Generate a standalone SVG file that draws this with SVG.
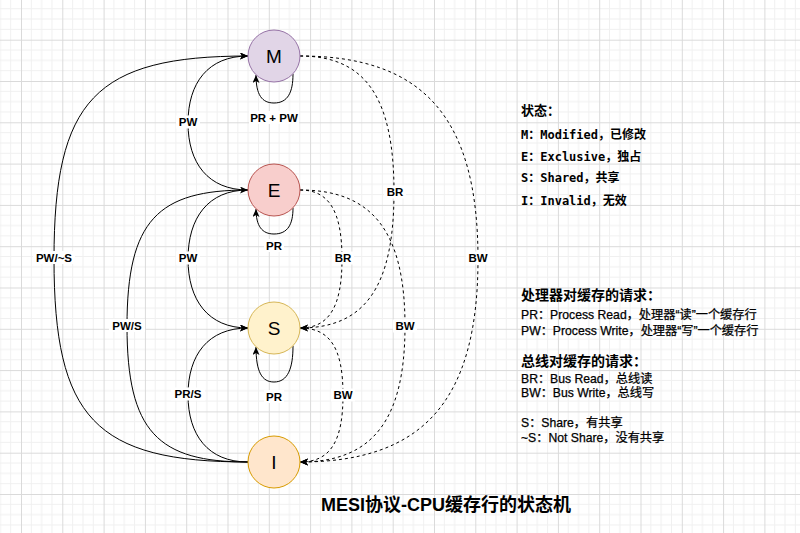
<svg xmlns="http://www.w3.org/2000/svg" width="800" height="533" viewBox="0 0 800 533">
<style>
.bg{fill:#ffffff}
.edge{fill:none;stroke:#000;stroke-width:1}
.dash{stroke-dasharray:3 3}
.lbl{font-family:"Liberation Sans","Noto Sans CJK SC",sans-serif;font-size:11.5px;font-weight:bold;fill:#000;text-anchor:middle}
.lblbg{fill:#fff}
.node circle{stroke-width:1}
.node text{font-family:"Liberation Sans",Arial,sans-serif;font-size:19px;fill:#000;text-anchor:middle}
.mono{font-family:"DejaVu Sans Mono","Noto Sans CJK SC",monospace;font-size:12px;font-weight:bold;fill:#000}
.head{font-family:"Liberation Sans","Noto Sans CJK SC",sans-serif;font-weight:bold;fill:#000}
.leg{font-family:"Liberation Sans","Noto Sans CJK SC",sans-serif;font-size:12.2px;fill:#000;stroke:#000;stroke-width:0.25}
.title{font-family:"Liberation Sans","Noto Sans CJK SC",sans-serif;font-size:18px;font-weight:bold;fill:#000;text-anchor:middle}
</style>
<defs>
<pattern id="grid" patternUnits="userSpaceOnUse" x="21" y="39.7" width="41.3" height="41.3">
<path d="M10.3 0V41.3M20.65 0V41.3M31 0V41.3M0 10.3H41.3M0 20.65H41.3M0 31H41.3" stroke="#f0f0f0" stroke-width="1" fill="none"/>
<path d="M0.5 0V41.3M0 0.5H41.3" stroke="#dadada" stroke-width="1" fill="none"/>
</pattern>
<marker id="arr" markerUnits="userSpaceOnUse" markerWidth="10" markerHeight="10" refX="8" refY="3.5" orient="auto" viewBox="0 0 10 10">
<path d="M0 0L8 3.5L0 7L2 3.5Z" fill="#000"/>
</marker>
</defs>
<rect class="bg" width="800" height="533"/>
<rect width="800" height="533" fill="url(#grid)"/>

<g id="connectors">
<path class="edge" marker-end="url(#arr)" d="M293 74C293 92 288 103 274 103C262 103 256 95 256 75"/>
<path class="edge" marker-end="url(#arr)" d="M293 208C293 224 288 234 274 234C262 234 256 226 256 209"/>
<path class="edge" marker-end="url(#arr)" d="M293 346C293 368 288 382 274 382C262 382 256 372 256 347"/>
<path class="edge" marker-end="url(#arr)" d="M248 190C208 190 188 163 188 123C188 83 208 56 248 56"/>
<path class="edge" marker-end="url(#arr)" d="M248 190C208 190 188 218 188 259C188 300 208 328 248 328"/>
<path class="edge" marker-end="url(#arr)" d="M248 462C208 462 188 435 188 395C188 355 208 328 248 328"/>
<path class="edge" marker-end="url(#arr)" d="M248 462C158 462 127 432 127 326C127 220 158 190 248 190"/>
<path class="edge" marker-end="url(#arr)" d="M248 462C95 462 54 418 54 259C54 100 95 56 248 56"/>
<path class="edge dash" marker-end="url(#arr)" d="M300 56C365 56 394 97 394 192C394 287 365 328 300 328"/>
<path class="edge dash" marker-end="url(#arr)" d="M300 56C423 56 478 117 478 259C478 401 423 462 300 462"/>
<path class="edge dash" marker-end="url(#arr)" d="M300 190C329 190 342 211 342 259C342 307 329 328 300 328"/>
<path class="edge dash" marker-end="url(#arr)" d="M300 190C372 190 405 231 405 326C405 421 372 462 300 462"/>
<path class="edge dash" marker-end="url(#arr)" d="M300 328C330 328 343 348 343 395C343 442 330 462 300 462"/>
</g>

<g id="edge-labels">
<rect class="lblbg" x="249" y="111" width="50" height="13"/><text class="lbl" x="274" y="121.7">PR + PW</text>
<rect class="lblbg" x="264" y="239" width="20" height="13"/><text class="lbl" x="274" y="249.7">PR</text>
<rect class="lblbg" x="264" y="390" width="20" height="13"/><text class="lbl" x="274" y="400.7">PR</text>
<rect class="lblbg" x="176" y="115.5" width="24" height="13"/><text class="lbl" x="188" y="126">PW</text>
<rect class="lblbg" x="176" y="251.5" width="24" height="13"/><text class="lbl" x="188" y="262">PW</text>
<rect class="lblbg" x="171" y="387.5" width="34" height="13"/><text class="lbl" x="188" y="398">PR/S</text>
<rect class="lblbg" x="109" y="319" width="36" height="13"/><text class="lbl" x="127" y="329.7">PW/S</text>
<rect class="lblbg" x="33" y="251" width="42" height="13"/><text class="lbl" x="54" y="261.7">PW/~S</text>
<rect class="lblbg" x="384" y="185.5" width="22" height="13"/><text class="lbl" x="395" y="196">BR</text>
<rect class="lblbg" x="466" y="251.5" width="24" height="13"/><text class="lbl" x="478" y="262">BW</text>
<rect class="lblbg" x="332" y="251.5" width="22" height="13"/><text class="lbl" x="343" y="262">BR</text>
<rect class="lblbg" x="393" y="319.5" width="24" height="13"/><text class="lbl" x="405" y="330">BW</text>
<rect class="lblbg" x="331" y="388.5" width="24" height="13"/><text class="lbl" x="343" y="399">BW</text>
</g>

<g id="node-M" class="node"><circle cx="274" cy="56" r="26" fill="#e1d5e7" stroke="#9673a6"/><text x="274" y="63">M</text></g>
<g id="node-E" class="node"><circle cx="274" cy="190" r="26" fill="#f8cecc" stroke="#b85450"/><text x="274" y="197">E</text></g>
<g id="node-S" class="node"><circle cx="274" cy="328" r="26" fill="#fff2cc" stroke="#d6b656"/><text x="274" y="335">S</text></g>
<g id="node-I" class="node"><circle cx="274" cy="462" r="26" fill="#ffe6cc" stroke="#d79b00"/><text x="274" y="469">I</text></g>

<g id="legend-states">
<text class="head" x="521" y="115" font-size="13">状态：</text>
<text class="mono" x="521" y="138.5">M：Modified，已修改</text>
<text class="mono" x="521" y="161">E：Exclusive，独占</text>
<text class="mono" x="521" y="182">S：Shared，共享</text>
<text class="mono" x="521" y="205">I：Invalid，无效</text>
</g>
<g id="legend-requests">
<text class="head" x="521" y="300" font-size="14">处理器对缓存的请求：</text>
<text class="leg" x="521" y="318.5">PR：Process Read，处理器“读”一个缓存行</text>
<text class="leg" x="521" y="334.5">PW：Process Write，处理器“写”一个缓存行</text>
<text class="head" x="521" y="366" font-size="14">总线对缓存的请求：</text>
<text class="leg" x="521" y="382.5">BR：Bus Read，总线读</text>
<text class="leg" x="521" y="397">BW：Bus Write，总线写</text>
<text class="leg" x="521" y="427">S：Share，有共享</text>
<text class="leg" x="521" y="442">~S：Not Share，没有共享</text>
</g>
<text class="title" x="446" y="510.5">MESI协议-CPU缓存行的状态机</text>
</svg>
